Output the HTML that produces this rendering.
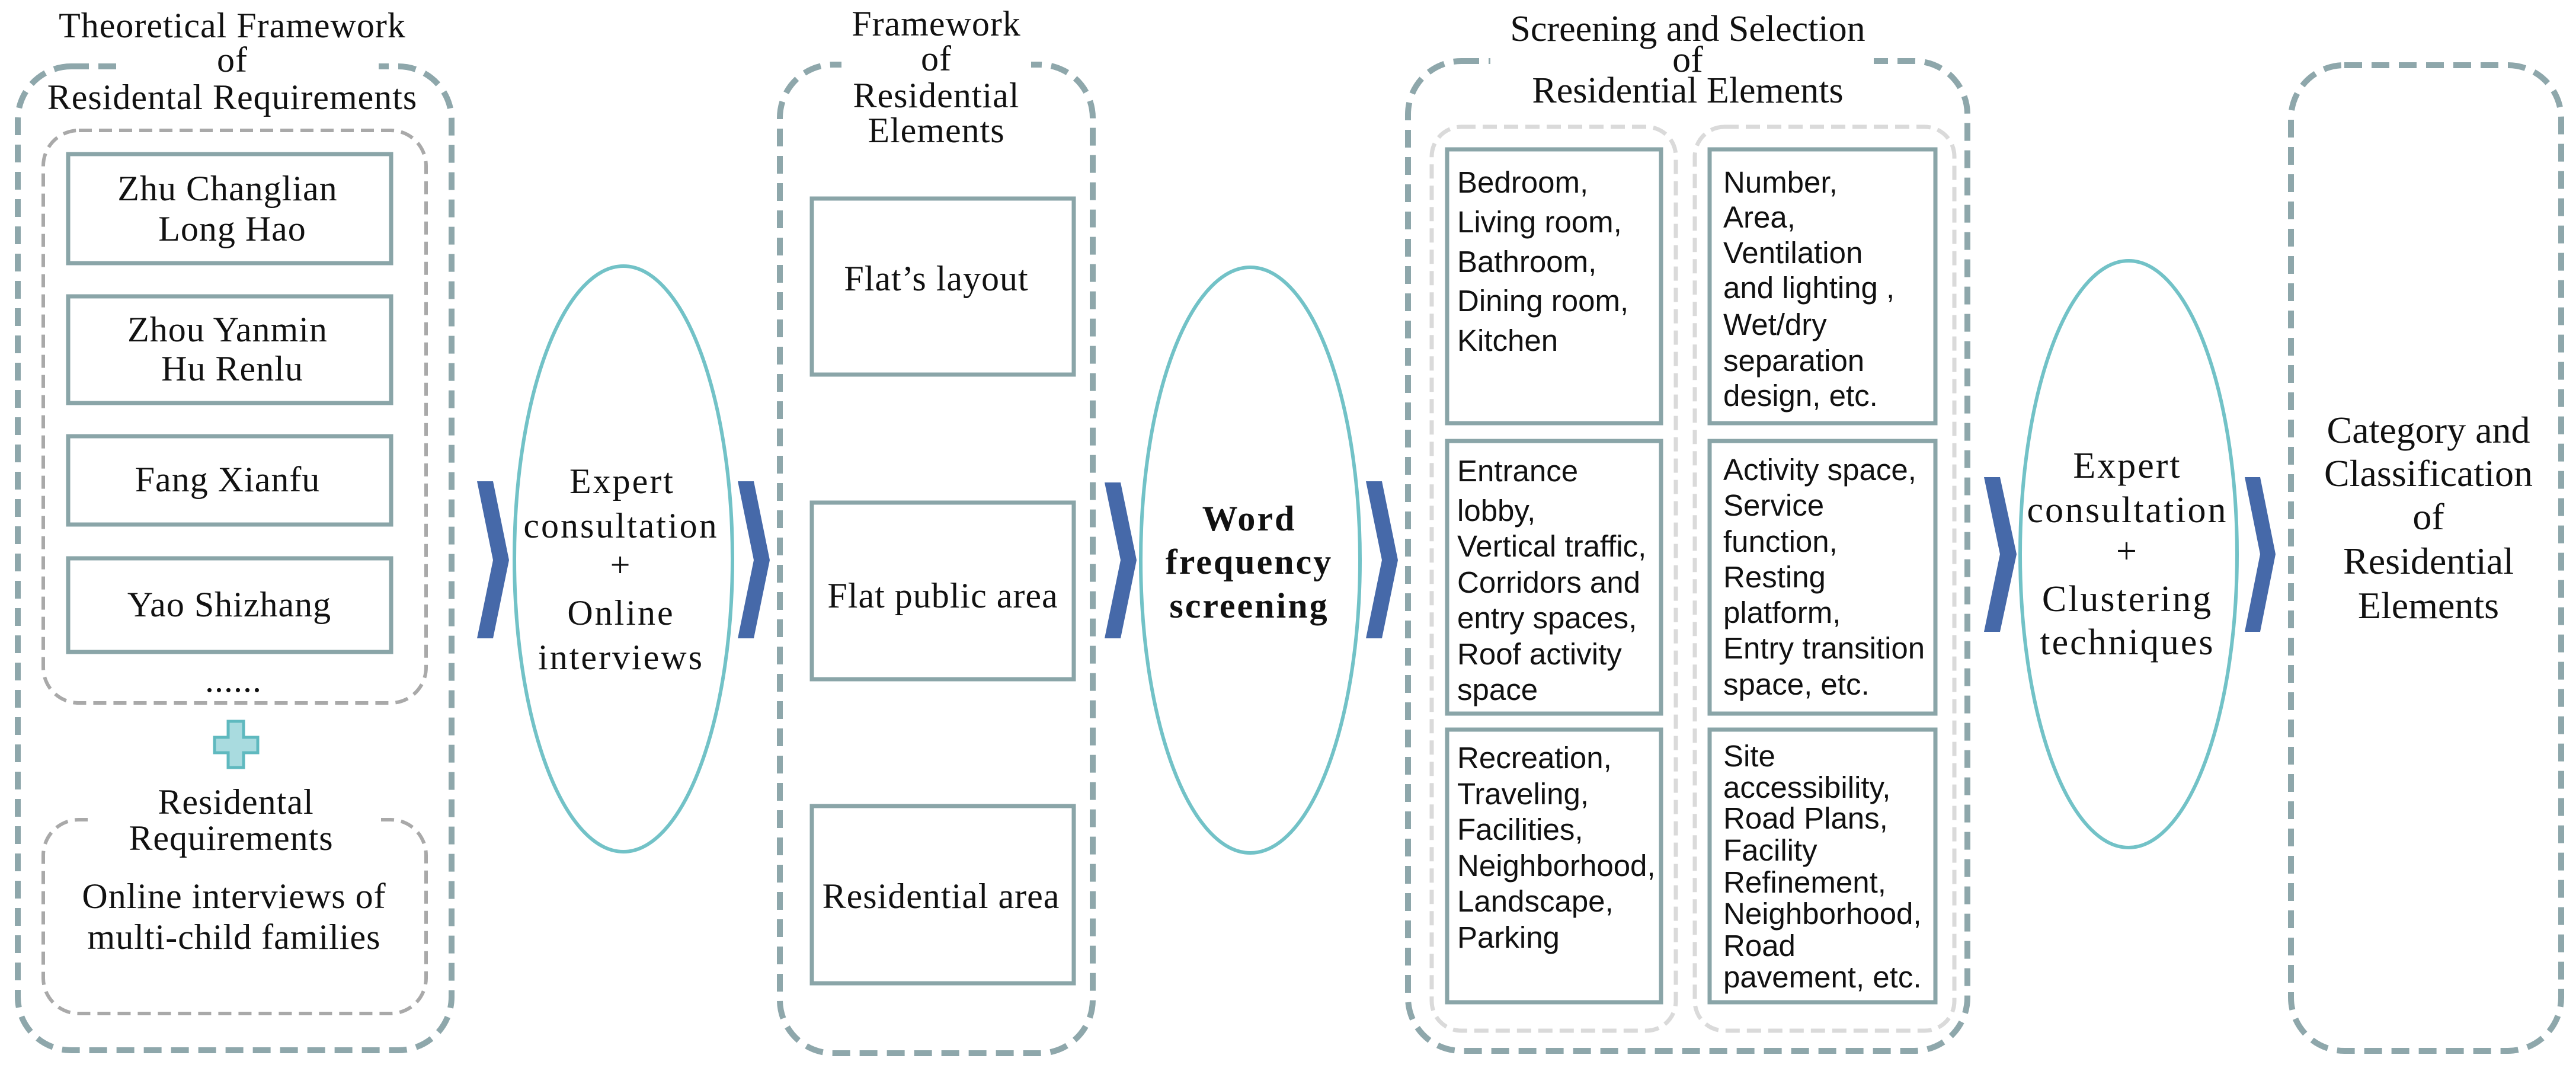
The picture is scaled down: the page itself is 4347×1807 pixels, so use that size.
<!DOCTYPE html>
<html><head><meta charset="utf-8"><style>
html,body{margin:0;padding:0;background:#fff;}
svg{display:block;}
.ser{font-family:"Liberation Serif",serif;fill:#111;}
.san{font-family:"Liberation Sans",sans-serif;fill:#111;font-size:51px;}
</style></head><body>
<svg xmlns="http://www.w3.org/2000/svg" width="4347" height="1807" viewBox="0 0 4347 1807">
<rect width="4347" height="1807" fill="#fff"/>
<g fill="none" stroke="#8ea7ab" stroke-width="10" stroke-dasharray="30 16">
<rect x="30" y="112" width="732" height="1660" rx="90"/>
<rect x="1316" y="109" width="528" height="1668" rx="90"/>
<rect x="2376" y="103" width="944" height="1670" rx="90"/>
<rect x="3866" y="110" width="456" height="1663" rx="90"/>
</g>
<g fill="none" stroke="#a9a9a9" stroke-width="6" stroke-dasharray="22 12">
<rect x="73" y="220" width="646" height="966" rx="60"/>
<rect x="73" y="1383" width="646" height="327" rx="60"/>
</g>
<g fill="none" stroke="#dadada" stroke-width="7" stroke-dasharray="24 12">
<rect x="2416" y="214" width="412" height="1525" rx="50"/>
<rect x="2860" y="214" width="438" height="1525" rx="50"/>
</g>
<g fill="#fff">
<rect x="199" y="95" width="440" height="40"/>
<rect x="1420" y="95" width="320" height="40"/>
<rect x="2515" y="88" width="647" height="40"/>
<rect x="148" y="1370" width="490" height="30"/>
</g>
<g fill="#fff" stroke="#8aa5a8" stroke-width="7">
<rect x="115" y="260" width="545" height="184"/>
<rect x="115" y="500" width="545" height="180"/>
<rect x="115" y="736" width="545" height="149"/>
<rect x="115" y="942" width="545" height="158"/>
<rect x="1370" y="335" width="442" height="297"/>
<rect x="1370" y="848" width="442" height="298"/>
<rect x="1370" y="1360" width="442" height="299"/>
<rect x="2442" y="252" width="361" height="462"/>
<rect x="2885" y="252" width="381" height="462"/>
<rect x="2442" y="744" width="361" height="460"/>
<rect x="2885" y="744" width="381" height="460"/>
<rect x="2442" y="1231" width="361" height="460"/>
<rect x="2885" y="1231" width="381" height="460"/>
</g>
<g fill="none" stroke="#72c2c7" stroke-width="6">
<ellipse cx="1052" cy="943" rx="184" ry="494"/>
<ellipse cx="2110" cy="945" rx="185" ry="494"/>
<ellipse cx="3592" cy="935" rx="183" ry="495"/>
</g>
<g fill="#4669a9">
<polygon points="805,812 832,812 859,945 832,1077 805,1077 832,945"/>
<polygon points="1245,812 1272,812 1299,945 1272,1077 1245,1077 1272,945"/>
<polygon points="1864,814 1891,814 1918,945 1891,1077 1864,1077 1891,945"/>
<polygon points="2305,812 2332,812 2359,945 2332,1077 2305,1077 2332,945"/>
<polygon points="3348,805 3375,805 3403,935 3375,1066 3348,1066 3375,935"/>
<polygon points="3788,805 3814,805 3840,935 3814,1066 3788,1066 3814,935"/>
</g>
<path d="M385,1217 h26 v27 h24 v26 h-24 v25 h-26 v-25 h-23 v-26 h23 z" fill="#a9dbdf" stroke="#5fb9bf" stroke-width="5"/>
<g class="ser" text-anchor="middle" font-size="60" letter-spacing="1">
<text x="392" y="63">Theoretical Framework</text>
<text x="392" y="121">of</text>
<text x="392" y="184">Residental Requirements</text>
<text x="384" y="338">Zhu Changlian</text>
<text x="392" y="406">Long Hao</text>
<text x="384" y="576">Zhou Yanmin</text>
<text x="392" y="642">Hu Renlu</text>
<text x="384" y="829">Fang Xianfu</text>
<text x="387" y="1040">Yao Shizhang</text>
<text x="394" y="1167">......</text>
<text x="398" y="1373">Residental</text>
<text x="390" y="1434">Requirements</text>
<text x="395" y="1532">Online interviews of</text>
<text x="395" y="1601">multi-child families</text>
<g letter-spacing="3">
<text x="1050" y="832">Expert</text>
<text x="1048" y="907">consultation</text>
<text x="1048" y="973">+</text>
<text x="1048" y="1054">Online</text>
<text x="1048" y="1129">interviews</text>
</g>
<text x="1580" y="60">Framework</text>
<text x="1580" y="119">of</text>
<text x="1580" y="181">Residential</text>
<text x="1580" y="240">Elements</text>
<text x="1580" y="490">Flat’s layout</text>
<text x="1591" y="1025">Flat public area</text>
<text x="1588" y="1532">Residential area</text>
<text x="2108" y="895" font-weight="bold" letter-spacing="3">Word</text>
<text x="2108" y="968" font-weight="bold" letter-spacing="3">frequency</text>
<text x="2108" y="1042" font-weight="bold" letter-spacing="3">screening</text>
</g>
<g class="ser" text-anchor="middle" font-size="62">
<text x="2848" y="69">Screening and Selection</text>
<text x="2848" y="121">of</text>
<text x="2848" y="173">Residential Elements</text>
<g letter-spacing="3">
<text x="3590" y="806">Expert</text>
<text x="3590" y="881">consultation</text>
<text x="3590" y="950">+</text>
<text x="3590" y="1031">Clustering</text>
<text x="3590" y="1104">techniques</text>
</g>
<text x="4098" y="747" font-size="64">Category and</text>
<text x="4098" y="820" font-size="64">Classification</text>
<text x="4098" y="893" font-size="64">of</text>
<text x="4098" y="968" font-size="64">Residential</text>
<text x="4098" y="1043" font-size="64">Elements</text>
</g>
<g class="san">
<text x="2459" y="325">Bedroom,</text>
<text x="2459" y="392">Living room,</text>
<text x="2459" y="459">Bathroom,</text>
<text x="2459" y="525">Dining room,</text>
<text x="2459" y="592">Kitchen</text>
<text x="2908" y="325">Number,</text>
<text x="2908" y="384">Area,</text>
<text x="2908" y="444">Ventilation</text>
<text x="2908" y="503">and lighting ,</text>
<text x="2908" y="565">Wet/dry</text>
<text x="2908" y="626">separation</text>
<text x="2908" y="685">design, etc.</text>
<text x="2459" y="812">Entrance</text>
<text x="2459" y="879">lobby,</text>
<text x="2459" y="939">Vertical traffic,</text>
<text x="2459" y="1000">Corridors and</text>
<text x="2459" y="1060">entry spaces,</text>
<text x="2459" y="1121">Roof activity</text>
<text x="2459" y="1181">space</text>
<text x="2908" y="810">Activity space,</text>
<text x="2908" y="870">Service</text>
<text x="2908" y="931">function,</text>
<text x="2908" y="991">Resting</text>
<text x="2908" y="1051">platform,</text>
<text x="2908" y="1111">Entry transition</text>
<text x="2908" y="1172">space, etc.</text>
<text x="2459" y="1296">Recreation,</text>
<text x="2459" y="1357">Traveling,</text>
<text x="2459" y="1417">Facilities,</text>
<text x="2459" y="1478">Neighborhood,</text>
<text x="2459" y="1538">Landscape,</text>
<text x="2459" y="1599">Parking</text>
<text x="2908" y="1293">Site</text>
<text x="2908" y="1346">accessibility,</text>
<text x="2908" y="1398">Road Plans,</text>
<text x="2908" y="1452">Facility</text>
<text x="2908" y="1506">Refinement,</text>
<text x="2908" y="1559">Neighborhood,</text>
<text x="2908" y="1613">Road</text>
<text x="2908" y="1666">pavement, etc.</text>
</g>
</svg>
</body></html>
